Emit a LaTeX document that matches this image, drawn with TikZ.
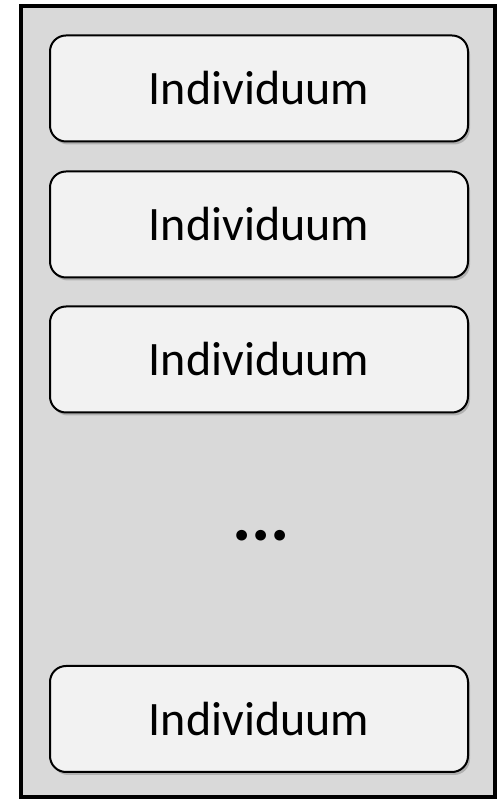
\documentclass[tikz,border=0pt]{standalone}
\usepackage{fontspec}
\setmainfont{Carlito}
\usetikzlibrary{shadows}
\definecolor{outerfill}{RGB}{217,217,217}
\definecolor{boxfill}{RGB}{242,242,242}
\begin{document}
\begin{tikzpicture}[x=1pt,y=1pt,
  indbox/.style={draw=black, line width=2pt, fill=boxfill, rounded corners=16pt,
    minimum width=418pt, minimum height=106pt, inner sep=0pt,
    font=\fontsize{48}{56}\selectfont,
    drop shadow={shadow xshift=2pt, shadow yshift=-3pt, opacity=0.35, fill=black!60}},
  dotstext/.style={inner sep=0pt, font=\bfseries\fontsize{72}{80}\selectfont}]
\useasboundingbox (0,0) rectangle (501,801);
\node[draw=black, line width=3.5pt, fill=outerfill, minimum width=474pt, minimum height=791pt, inner sep=0pt] (pop) at (258,399.5) {};
\node[indbox] (i1) at (259,712.5) {Individuum};
\node[indbox] (i2) at (259,576.5) {Individuum};
\node[indbox] (i3) at (259,441.5) {Individuum};
\node[dotstext, anchor=base] (dots) at (261,260) {...};
\node[indbox] (i4) at (259,82) {Individuum};
\end{tikzpicture}
\end{document}
